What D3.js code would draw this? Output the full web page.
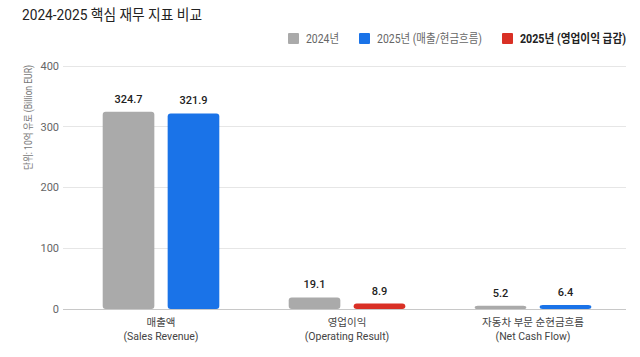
<!DOCTYPE html>
<html><head><meta charset="utf-8">
<script src="https://cdn.jsdelivr.net/npm/d3@7/dist/d3.min.js"></script>
<style>
html,body{margin:0;padding:0;background:#fff;}
svg{display:block;font-family:Roboto,"Noto Sans CJK KR","Noto Sans",sans-serif;}
</style></head>
<body>
<svg id="c" width="640" height="357"></svg>
<script>
const title = "2024-2025 핵심 재무 지표 비교";
const categories = ["매출액|(Sales Revenue)", "영업이익|(Operating Result)", "자동차 부문 순현금흐름|(Net Cash Flow)"];
const values2024 = [324.7, 19.1, 5.2];
const values2025 = [321.9, 8.9, 6.4];
const colors2025 = ["blue", "red", "blue"];
const legendLabels = ["2024년", "2025년 (매출/현금흐름)", "2025년 (영업이익 급감)"];
const yTicks = [0, 100, 200, 300, 400];
const yTitle = "단위: 10억 유로 (Billion EUR)";

const palette = {gray: "#aaaaaa", blue: "#1a73e8", red: "#d93025"};
const svg = d3.select("#c");

const y = d3.scaleLinear().domain([0, 400]).range([309, 66]);
const x0 = d3.scaleBand().domain(categories).range([68, 626]).padding(0);
const x1 = d3.scaleBand().domain(["a", "b"]).range([-58.3, 58.3]).paddingInner(0.205).paddingOuter(0);

// title
svg.append("text").attr("x", 22).attr("y", 20).attr("font-size", 14.5).attr("fill", "#222")
  .attr("textLength", 180).attr("lengthAdjust", "spacingAndGlyphs").text(title);

// legend
const legendColors = [palette.gray, palette.blue, palette.red];
const legendX = [288, 359, 502];
const legendW = [33, 105, 106];
legendLabels.forEach((l, i) => {
  svg.append("rect").attr("x", legendX[i]).attr("y", 33).attr("width", 11).attr("height", 11).attr("rx", 1).attr("fill", legendColors[i]);
  svg.append("text").attr("x", legendX[i] + 18).attr("y", 43).attr("font-size", 12)
    .attr("textLength", legendW[i]).attr("lengthAdjust", "spacingAndGlyphs")
    .attr("fill", i === 2 ? "#222" : "#666").attr("font-weight", i === 2 ? 700 : 400).text(l);
});

// grid + ticks
const g = svg.append("g");
yTicks.forEach(t => {
  g.append("line").attr("x1", 63).attr("x2", 626).attr("y1", y(t)).attr("y2", y(t))
    .attr("stroke", t === 0 ? "#c8c8c8" : "#e6e6e6").attr("stroke-width", 1).attr("shape-rendering", "crispEdges");
  g.append("text").attr("x", 59).attr("y", y(t)).attr("dy", "0.35em").attr("text-anchor", "end")
    .attr("font-size", 11).attr("fill", "#666").text(t);
});

// y title
svg.append("text").attr("transform", "translate(32,65) rotate(-90)").attr("text-anchor", "end")
  .attr("font-size", 10).attr("fill", "#777").attr("textLength", 105).attr("lengthAdjust", "spacingAndGlyphs").text(yTitle);

// bars
categories.forEach((c, i) => {
  const cx = x0(c) + x0.bandwidth() / 2;
  const series = [
    {k: "a", v: values2024[i], col: palette.gray},
    {k: "b", v: values2025[i], col: palette[colors2025[i]]}
  ];
  series.forEach(s => {
    const bx = cx + x1(s.k);
    svg.append("rect").attr("x", bx).attr("y", y(s.v)).attr("width", x1.bandwidth())
      .attr("height", y(0) - y(s.v)).attr("rx", 3).attr("fill", s.col);
    svg.append("text").attr("x", bx + x1.bandwidth() / 2).attr("y", y(s.v) - 9)
      .attr("text-anchor", "middle").attr("font-size", 11).attr("font-weight", 500).attr("fill", "#222").text(s.v.toFixed(1));
  });
  const lines = c.split("|");
  lines.forEach((ln, j) => {
    svg.append("text").attr("x", cx).attr("y", 326 + j * 14).attr("text-anchor", "middle")
      .attr("font-size", 10.5).attr("fill", "#444").text(ln);
  });
});
</script>
</body></html>
